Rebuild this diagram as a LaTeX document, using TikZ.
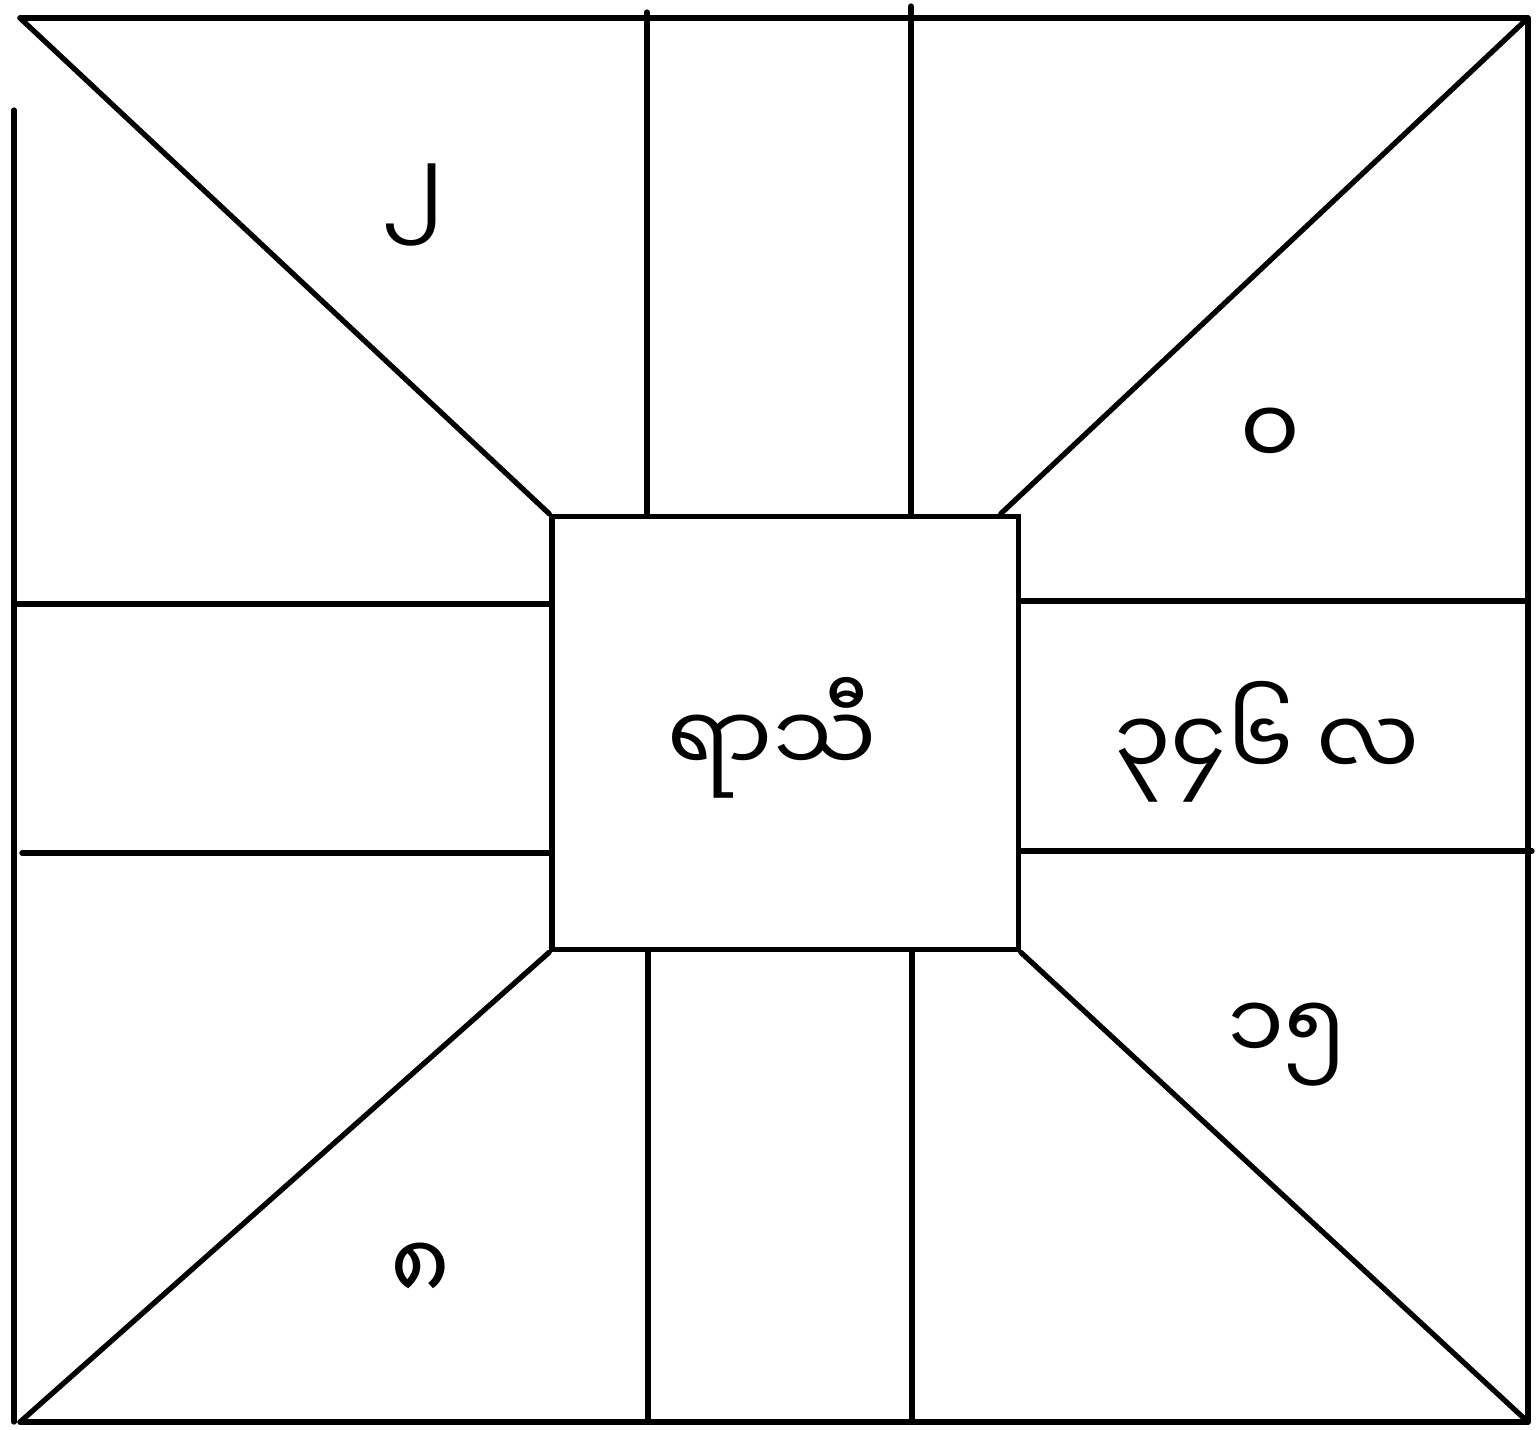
\documentclass[tikz,border=0pt]{standalone}
\usepackage{fontspec}
\usetikzlibrary{positioning}
\newfontfamily\mmfont[Script=Myanmar]{Noto Sans Myanmar UI}

\begin{document}
\begin{tikzpicture}[
    x=0.01cm, y=-0.01cm,
    rule/.style={line width=1.5pt, line cap=round},
    hub/.style={
        rectangle,
        draw=black,
        line width=1.5pt,
        minimum width=4.66cm,
        minimum height=4.33cm,
        inner sep=0pt
    },
    sign/.style={font=\mmfont\fontsize{26}{31}\selectfont, inner sep=0pt}
]
\useasboundingbox (0,0) rectangle (1536,1429);

% Outer frame corners
\coordinate (nw) at (20,18);
\coordinate (ne) at (1528,18);
\coordinate (sw) at (20,1422);
\coordinate (se) at (1528,1422);
\coordinate (wtop) at (14,110);

% Centre box
\node[hub] (hub) at (785,733) {};

% Frame
\draw[rule] (nw) -- (ne);
\draw[rule] (ne) -- (se);
\draw[rule] (sw) -- (se);
\draw[rule] (wtop) -- (wtop |- sw);

% Diagonals
\draw[rule] (nw) -- (hub.north west);
\draw[rule] (ne) -- ([xshift=-0.2cm]hub.north east);
\draw[rule] (sw) -- (hub.south west);
\draw[rule] (se) -- (hub.south east);

% Vertical strips
\coordinate (vtl) at (647,12);
\coordinate (vtr) at (911,6);
\coordinate (vbl) at (648,1422);
\coordinate (vbr) at (912,1422);
\draw[rule] (vtl) -- (vtl |- hub.north);
\draw[rule] (vtr) -- (vtr |- hub.north);
\draw[rule] (vbl) -- (vbl |- hub.south);
\draw[rule] (vbr) -- (vbr |- hub.south);

% Horizontal strips
\coordinate (hwl) at (16,604);
\coordinate (hwb) at (22,853);
\coordinate (hel) at (1528,601);
\coordinate (heb) at (1532,851);
\draw[rule] (hwl) -- (hwl -| hub.west);
\draw[rule] (hwb) -- (hwb -| hub.west);
\draw[rule] (hel) -- (hel -| hub.east);
\draw[rule] (heb) -- (heb -| hub.east);

% Labels
\node[sign] (name) at (772,738) {ရာသီ};
\node[sign] (two) at (413,205) {၂};
\node[sign] (zero) at (1270,437) {၀};
\node[sign] (months) at (1267,742) {၃၄၆ လ};
\node[sign] (fifteen) at (1287,1045) {၁၅};
\node[sign] (eight) at (420,1272) {၈};

\end{tikzpicture}
\end{document}
